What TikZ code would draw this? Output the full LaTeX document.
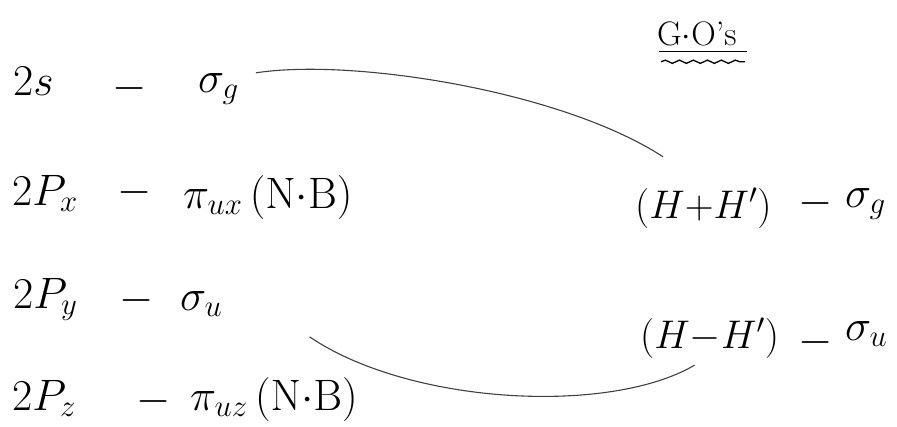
\RequirePackage{fix-cm}
\documentclass[tikz,border=0pt]{standalone}
\usetikzlibrary{decorations.pathmorphing}
\begin{document}
\begin{tikzpicture}[x=1pt, y=-1pt, every node/.style={inner sep=0pt, font=\fontsize{44}{50}\selectfont}, small/.style={font=\fontsize{40}{46}\selectfont}, link/.style={line width=1.1pt, black!75}]
  \useasboundingbox (0,0) rectangle (897,426);
  \node[anchor=base west] (s2) at (13,95) {$2s$};
  \node[anchor=base west] (px) at (12,205) {$2P_x$};
  \node[anchor=base west] (py) at (13,308) {$2P_y$};
  \node[anchor=base west] (pz) at (12,410) {$2P_z$};
  \foreach \n/\x/\y in {d1/130/88,d2/135/192,d3/137/300,d4/154/401,d5/816/203,d6/816/342} \node (\n) at (\x,\y) {$-$};
  \node[anchor=base west] (sg) at (198,92) {$\sigma_g$};
  \node[anchor=base west] (pux) at (183,208) {$\pi_{ux}\,(\mathrm{N{\cdot}B})$};
  \node[anchor=base west] (su) at (180,310) {$\sigma_u$};
  \node[anchor=base west] (puz) at (190,410) {$\pi_{uz}\,(\mathrm{N{\cdot}B})$};
  \node[anchor=base west, font=\fontsize{34}{40}\selectfont] (gos) at (657,45) {G$\cdot$O's};
  \draw[line width=1.3pt] (gos.south west) ++(2,6) -- ++(88,0);
  \draw[line width=1.3pt, decorate, decoration={snake, amplitude=1.6pt, segment length=14pt}] (gos.south west) ++(4,16) -- ++(84,0);
  \node[anchor=base west, small] (hp) at (635,218) {$(H{+}H')$};
  \node[anchor=base west] (sg2) at (845,207) {$\sigma_g$};
  \node[anchor=base west, small] (hm) at (640,348) {$(H{-}H')$};
  \node[anchor=base west] (su2) at (845,340) {$\sigma_u$};
  % correlation lines
  \draw[link] ([xshift=17pt]sg.north east) .. controls (350,58) and (560,90) .. ([xshift=28pt,yshift=31pt]hp.north west);
  \draw[link] ([xshift=87pt,yshift=-20pt]su.south east) .. controls (410,405) and (610,415) .. ([xshift=-15pt,yshift=-7pt]hm.south);
\end{tikzpicture}
\end{document}
